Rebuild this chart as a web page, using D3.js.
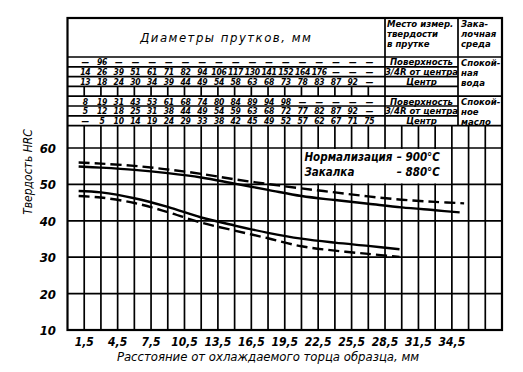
<!DOCTYPE html>
<html>
<head>
<meta charset="utf-8">
<script src="https://cdn.jsdelivr.net/npm/d3@7"></script>
<style>
  body { margin: 0; background: #fff; }
  svg { display: block; }
  text { font-family: "DejaVu Sans Condensed", "DejaVu Sans", sans-serif; font-style: italic; fill: #000; }
</style>
</head>
<body>
<svg id="chart" width="523" height="372"></svg>
<script>
// tick labels
const xTickValues = [1.5, 4.5, 7.5, 10.5, 13.5, 16.5, 19.5, 22.5, 25.5, 28.5, 31.5, 34.5];
const xTickLabels = ["1,5", "4,5", "7,5", "10,5", "13,5", "16,5", "19,5", "22,5", "25,5", "28,5", "31,5", "34,5"];
const yTickValues = [10, 20, 30, 40, 50, 60];

// hardness curves (distance, mm / HRC)
const distHighSolid = [1, 3, 6, 9, 12, 15, 18, 21, 24, 27, 30, 33, 35.2];
const hrcHighSolid = [54.9, 54.6, 54.0, 53.1, 51.9, 50.2, 48.5, 46.8, 45.7, 44.7, 43.7, 42.9, 42.3];
const distHighDashed = [1, 3, 6, 9, 12, 15, 18, 21, 24, 27, 30, 33, 35.6];
const hrcHighDashed = [56.0, 55.7, 55.1, 54.1, 52.9, 51.4, 50.1, 48.9, 47.8, 46.7, 45.8, 45.2, 44.8];
const distLowSolid = [1, 3, 6, 9, 12, 15, 18, 21, 24, 27, 29.8];
const hrcLowSolid = [48.2, 47.8, 46.2, 43.8, 40.9, 38.7, 36.7, 35.1, 34.0, 33.1, 32.2];
const distLowDashed = [1, 3, 6, 9, 12, 15, 18, 21, 24, 27, 29.8];
const hrcLowDashed = [46.8, 46.4, 44.9, 42.4, 39.5, 37.3, 35.2, 33.0, 31.8, 30.9, 30.1];

// table: bar diameters, mm, for each column 1.5 ... 27 mm
const tableDist = [1.5, 3, 4.5, 6, 7.5, 9, 10.5, 12, 13.5, 15, 16.5, 18, 19.5, 21, 22.5, 24, 25.5, 27];
const waterSurface = ["—", "96", "—", "—", "—", "—", "—", "—", "—", "—", "—", "—", "—", "—", "—", "—", "—", "—"];
const waterR34 = ["14", "26", "39", "51", "61", "71", "82", "94", "106", "117", "130", "141", "152", "164", "176", "—", "—", "—"];
const waterCenter = ["13", "18", "24", "30", "34", "39", "44", "49", "54", "58", "63", "68", "73", "78", "83", "87", "92", "—"];
const oilSurface = ["8", "19", "31", "43", "53", "61", "68", "74", "80", "84", "89", "94", "98", "—", "—", "—", "—", "—"];
const oilR34 = ["5", "12", "18", "25", "31", "38", "44", "49", "54", "59", "63", "68", "72", "77", "82", "87", "92", "—"];
const oilCenter = ["—", "5", "10", "14", "19", "24", "29", "33", "38", "42", "45", "49", "52", "57", "62", "67", "71", "75"];
const placeLabels = ["Поверхность", "3/4R от центра", "Центр", "", "Поверхность", "3/4R от центра", "Центр"];

const svg = d3.select("#chart");

const frameTop = 18;
const headBottom = 57;
const rowH = 9.8;
const plotTop = headBottom + rowH * 7;
const divPlace = 385;
const divMedium = 458;

const x = d3.scaleLinear().domain([0, 39]).range([67.5, 502]);
const y = d3.scaleLinear().domain([10, 60]).range([330, 148]);
const left = x(0), right = x(39), bottom = y(10);

const grid = svg.append("g").attr("stroke", "#000").attr("stroke-width", 1.7);

// vertical grid in the plot
grid.selectAll(".vg")
  .data(d3.range(1.5, 39, 1.5))
  .enter().append("line")
  .attr("x1", d => x(d)).attr("x2", d => x(d))
  .attr("y1", plotTop).attr("y2", bottom);

// horizontal grid
grid.selectAll(".hg")
  .data(yTickValues)
  .enter().append("line")
  .attr("x1", left).attr("x2", right)
  .attr("y1", d => y(d)).attr("y2", d => y(d));

// table lines
const rowLines = d3.range(0, 8).map(k => headBottom + k * rowH);
grid.selectAll(".tr")
  .data(rowLines)
  .enter().append("line")
  .attr("x1", left).attr("x2", divMedium)
  .attr("y1", d => d).attr("y2", d => d);
grid.selectAll(".tm")
  .data([headBottom, headBottom + 4 * rowH, plotTop])
  .enter().append("line")
  .attr("x1", divMedium).attr("x2", right)
  .attr("y1", d => d).attr("y2", d => d);
grid.selectAll(".te")
  .data(tableDist)
  .enter().append("line")
  .attr("x1", d => x(d)).attr("x2", d => x(d))
  .attr("y1", headBottom + 3 * rowH).attr("y2", headBottom + 4 * rowH);
grid.append("line").attr("x1", divPlace).attr("x2", divPlace).attr("y1", frameTop).attr("y2", plotTop);
grid.append("line").attr("x1", divMedium).attr("x2", divMedium).attr("y1", frameTop).attr("y2", plotTop);

// outer frame
svg.append("rect")
  .attr("x", left).attr("y", frameTop)
  .attr("width", right - left).attr("height", bottom - frameTop)
  .attr("fill", "none").attr("stroke", "#000").attr("stroke-width", 2.2);

// legend box
svg.append("rect")
  .attr("x", x(21) + 1).attr("y", y(60) + 1)
  .attr("width", x(34.5) - x(21) - 2).attr("height", y(50) - y(60) - 2)
  .attr("fill", "#fff");
const legend = svg.append("g").attr("font-size", 11.5).attr("font-weight", "bold");
legend.append("text").attr("x", x(21) + 3).attr("y", y(60) + 13).text("Нормализация");
legend.append("text").attr("x", x(34.5) - 12).attr("y", y(60) + 13)
  .attr("text-anchor", "end").text("– 900°C");
legend.append("text").attr("x", x(21) + 3).attr("y", y(60) + 28).text("Закалка");
legend.append("text").attr("x", x(34.5) - 12).attr("y", y(60) + 28)
  .attr("text-anchor", "end").text("– 880°C");

// curves
const line = d3.line()
  .x(d => x(d[0]))
  .y(d => y(d[1]))
  .curve(d3.curveCatmullRom);

const curves = [
  { d: d3.zip(distHighSolid, hrcHighSolid), dash: null },
  { d: d3.zip(distHighDashed, hrcHighDashed), dash: "11,5" },
  { d: d3.zip(distLowSolid, hrcLowSolid), dash: null },
  { d: d3.zip(distLowDashed, hrcLowDashed), dash: "11,5" }
];

svg.selectAll(".curve")
  .data(curves)
  .enter().append("path")
  .attr("class", "curve")
  .attr("d", c => line(c.d))
  .attr("fill", "none")
  .attr("stroke", "#000")
  .attr("stroke-width", 2.4)
  .attr("stroke-dasharray", c => c.dash);

// axes labels
svg.selectAll(".yt")
  .data(yTickValues)
  .enter().append("text")
  .attr("x", 56).attr("y", d => y(d) + 5)
  .attr("text-anchor", "end")
  .attr("font-size", 13)
  .attr("font-weight", "bold")
  .text(d => d);

svg.selectAll(".xt")
  .data(xTickValues)
  .enter().append("text")
  .attr("x", d => x(d)).attr("y", 346)
  .attr("text-anchor", "middle")
  .attr("font-size", 12)
  .attr("font-weight", "bold")
  .text((d, i) => xTickLabels[i]);

svg.append("text")
  .attr("x", 268).attr("y", 361)
  .attr("text-anchor", "middle")
  .attr("font-size", 13)
  .text("Расстояние от охлаждаемого торца образца, мм");

svg.append("text")
  .attr("transform", "translate(32, 172) rotate(-90)")
  .attr("text-anchor", "middle")
  .attr("font-size", 12)
  .text("Твердость HRC");

// table header
svg.append("text")
  .attr("x", (left + divPlace) / 2).attr("y", 42)
  .attr("text-anchor", "middle")
  .attr("font-size", 13)
  .attr("letter-spacing", 1.5)
  .text("Диаметры прутков, мм");

const headPlace = ["Место измер.", "твердости", "в прутке"];
const headMedium = ["Зака-", "лочная", "среда"];
svg.selectAll(".hp")
  .data(headPlace)
  .enter().append("text")
  .attr("x", divPlace + 2).attr("y", (d, i) => 27 + i * 10)
  .attr("font-size", 9.5)
  .attr("font-weight", "bold")
  .text(d => d);
svg.selectAll(".hm")
  .data(headMedium)
  .enter().append("text")
  .attr("x", divMedium + 3).attr("y", (d, i) => 27 + i * 10)
  .attr("font-size", 9.5)
  .attr("font-weight", "bold")
  .text(d => d);

const mediumWater = ["Спокой-", "ная", "вода"];
const mediumOil = ["Спокой-", "ное", "масло"];
svg.selectAll(".mw")
  .data(mediumWater)
  .enter().append("text")
  .attr("x", divMedium + 3).attr("y", (d, i) => headBottom + 9 + i * 10)
  .attr("font-size", 9.5)
  .attr("font-weight", "bold")
  .text(d => d);
svg.selectAll(".mo")
  .data(mediumOil)
  .enter().append("text")
  .attr("x", divMedium + 3).attr("y", (d, i) => headBottom + 4 * rowH + 9 + i * 10)
  .attr("font-size", 9.5)
  .attr("font-weight", "bold")
  .text(d => d);

svg.selectAll(".pl")
  .data(placeLabels)
  .enter().append("text")
  .attr("x", (divPlace + divMedium) / 2)
  .attr("y", (d, i) => headBottom + rowH * (i + 0.5) + 3.5)
  .attr("text-anchor", "middle")
  .attr("font-size", 9.5)
  .attr("font-weight", "bold")
  .text(d => d);

const tableRows = [waterSurface, waterR34, waterCenter, null, oilSurface, oilR34, oilCenter];
tableRows.forEach((row, r) => {
  if (!row) return;
  svg.selectAll(".tv" + r)
    .data(row)
    .enter().append("text")
    .attr("x", (d, i) => x(tableDist[i]) + 1)
    .attr("y", headBottom + rowH * (r + 0.5) + 3.5)
    .attr("text-anchor", "middle")
    .attr("font-size", 8.5)
    .attr("font-weight", "bold")
    .attr("letter-spacing", -0.3)
    .text(d => d);
});
</script>
</body>
</html>
